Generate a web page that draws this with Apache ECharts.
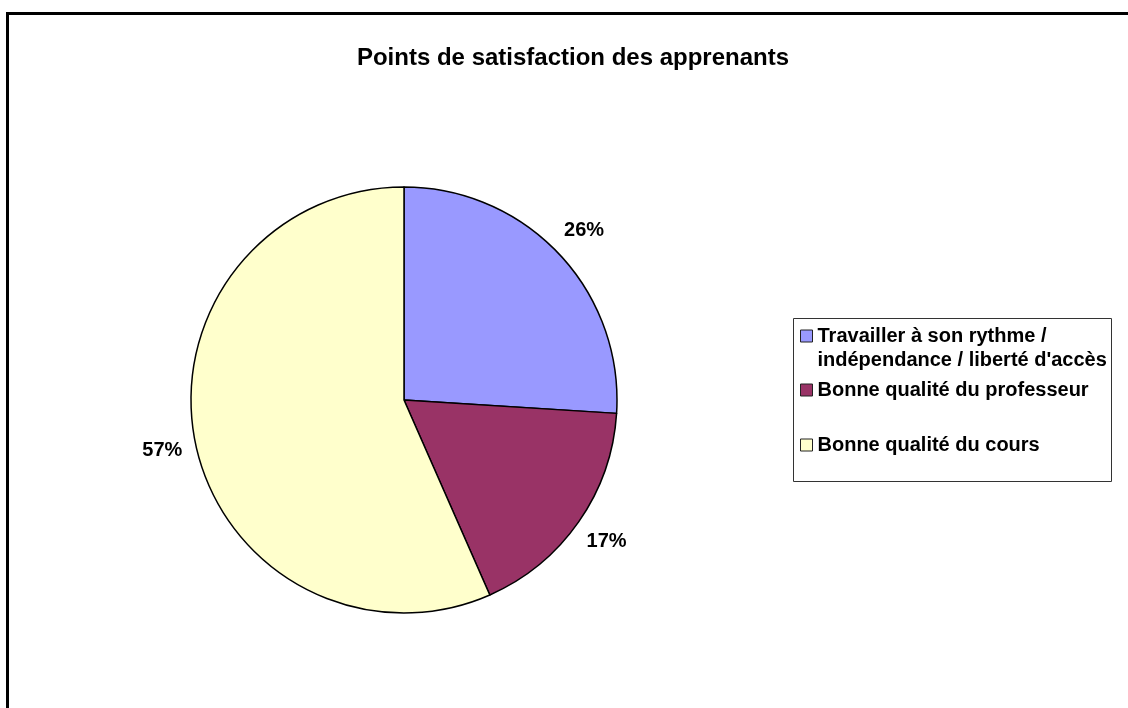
<!DOCTYPE html>
<html>
<head>
<meta charset="utf-8">
<title>Points de satisfaction des apprenants</title>
<script src="https://cdn.jsdelivr.net/npm/echarts@6/dist/echarts.min.js"></script>
<style>
  html, body { margin: 0; padding: 0; background: #fff; }
  #chart { width: 1128px; height: 708px; }
</style>
</head>
<body>
<div id="chart"></div>
<script>
// données
const categories = [
    "Travailler à son rythme /\nindépendance / liberté d'accès",
    'Bonne qualité du professeur',
    'Bonne qualité du cours'
];
const values = [26, 17.4, 56.6];
const colors = ['#9999FF', '#993366', '#FFFFCC'];

const FONT = 'Arial, "Liberation Sans", sans-serif';

const pieData = categories.map((name, i) => ({
    name: name,
    value: values[i],
    itemStyle: { color: colors[i] }
}));

// une légende par entrée (espacements différents comme dans Excel)
const legendTops = [300, 378, 433];
const legends = categories.map((name, i) => ({
    orient: 'vertical',
    left: 800,
    top: legendTops[i],
    padding: 0,
    icon: 'rect',
    itemWidth: 12,
    itemHeight: 12,
    selectedMode: false,
    data: [{
        name: name,
        itemStyle: { borderColor: '#222', borderWidth: 1 }
    }],
    // ligne vide devant pour aligner le carré sur la 1re ligne
    formatter: n => (n.indexOf('\n') >= 0 ? '\n' + n : n),
    textStyle: {
        fontFamily: FONT,
        fontSize: 20,
        fontWeight: 'bold',
        color: '#000',
        lineHeight: 24
    }
}));

let myChart = echarts.init(document.getElementById('chart'));
myChart.setOption({
    animation: false,
    backgroundColor: '#fff',
    title: {
        text: 'Points de satisfaction des apprenants',
        left: 568,
        top: 41,
        textAlign: 'center',
        textStyle: { fontFamily: FONT, fontSize: 24, fontWeight: 'bold', color: '#000' }
    },
    legend: legends,
    graphic: [
        // cadre extérieur
        {
            type: 'rect',
            shape: { x: 7.5, y: 13.5, width: 1300, height: 900 },
            style: { fill: 'none', stroke: '#000', lineWidth: 3 },
            silent: true
        },
        // cadre de la légende
        {
            type: 'rect',
            shape: { x: 793.5, y: 318.5, width: 318, height: 163 },
            style: { fill: 'none', stroke: '#333', lineWidth: 1 },
            silent: true
        }
    ],
    series: [
        {
            type: 'pie',
            center: [404, 400],
            radius: 213,
            startAngle: 90,
            clockwise: true,
            silent: true,
            data: pieData,
            itemStyle: { borderColor: '#000', borderWidth: 1.5 },
            label: { show: false },
            labelLine: { show: false }
        },
        {
            // anneau invisible pour placer les pourcentages
            type: 'pie',
            center: [404, 400],
            radius: [214, 274],
            startAngle: 90,
            clockwise: true,
            silent: true,
            percentPrecision: 0,
            data: pieData.map(d => ({ name: d.name, value: d.value })),
            itemStyle: { color: 'rgba(0,0,0,0)', borderWidth: 0 },
            label: {
                show: true,
                position: 'inside',
                formatter: '{d}%',
                fontFamily: FONT,
                fontSize: 20,
                fontWeight: 'bold',
                color: '#000'
            },
            labelLine: { show: false }
        }
    ]
});
</script>
</body>
</html>
